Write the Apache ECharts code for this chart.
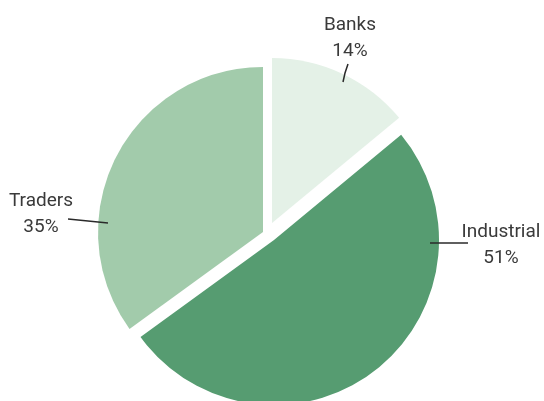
<!DOCTYPE html>
<html>
<head>
<meta charset="utf-8">
<script src="https://cdn.jsdelivr.net/npm/echarts@6/dist/echarts.min.js"></script>
<style>html,body{margin:0;padding:0;background:#fff;}#c{width:544px;height:401px;}</style>
</head>
<body>
<div id="c"></div>
<script>
const categories = ['Banks', 'Industrial', 'Traders'];
const values = [14, 51, 35];
const sliceColors = ['#e4f1e7', '#569c71', '#a2cbab'];

// per-slice layout (exploded pie: each slice drawn by its own series)
const sliceCenters = [[272, 223], [274, 240], [263, 232]];
const labelPos = [
  { x: 350, y: 38, line: [[343, 82], [345, 73], [348, 64]] },
  { x: 501, y: 245, line: [[430, 243], [450, 243], [468, 243]] },
  { x: 41, y: 214, line: [[108, 223], [88, 221], [68, 219]] }
];

const chart = echarts.init(document.getElementById('c'), null, { renderer: 'canvas' });

const sliceSeries = categories.map((cat, i) => ({
  type: 'pie',
  silent: true,
  animation: false,
  z: 2,
  radius: [0, 165],
  center: sliceCenters[i],
  startAngle: 90,
  clockwise: true,
  emphasis: { disabled: true },
  label: { show: false },
  labelLine: { show: false },
  data: categories.map((c, j) => ({
    name: c,
    value: values[j],
    itemStyle: { color: j === i ? sliceColors[j] : 'rgba(0,0,0,0)', borderWidth: 0 }
  }))
}));

// transparent overlay series carrying the labels and leader lines on top of the slices
const labelSeries = {
  type: 'pie',
  silent: true,
  animation: false,
  z: 10,
  radius: [0, 165],
  center: [270, 235],
  startAngle: 90,
  clockwise: true,
  avoidLabelOverlap: false,
  emphasis: { disabled: true },
  data: categories.map((c, j) => ({
    name: c,
    value: values[j],
    itemStyle: { color: 'rgba(0,0,0,0)', borderWidth: 0 }
  })),
  label: {
    show: true,
    position: 'outside',
    formatter: '{b}\n{d}%',
    fontFamily: 'Roboto',
    fontSize: 19,
    lineHeight: 26,
    color: '#3a3a3a',
    align: 'center'
  },
  labelLine: {
    show: true,
    lineStyle: { color: '#2a2a2a', width: 1.5 }
  },
  labelLayout: function (params) {
    const p = labelPos[params.dataIndex];
    return {
      x: p.x,
      y: p.y,
      align: 'center',
      verticalAlign: 'middle',
      labelLinePoints: p.line
    };
  }
};

chart.setOption({
  backgroundColor: '#ffffff',
  animation: false,
  series: sliceSeries.concat([labelSeries])
});
</script>
</body>
</html>
